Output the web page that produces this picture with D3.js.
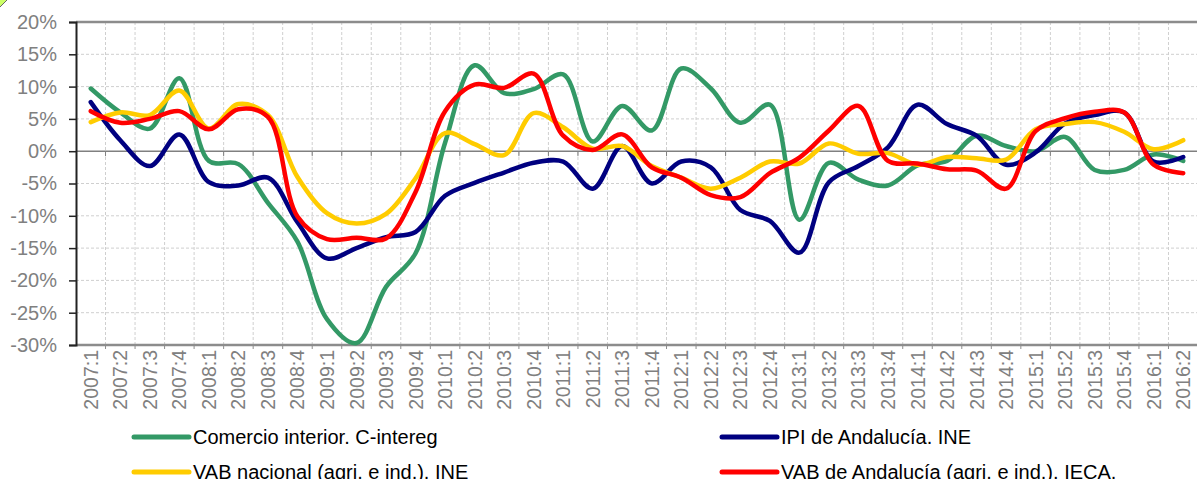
<!DOCTYPE html>
<meta charset="utf-8">
<script src="https://d3js.org/d3.v7.min.js"></script>
<style>
  body { margin: 0; background: #fff; }
  text { font-family: "Liberation Sans", Arial, sans-serif; }
</style>
<div id="my_dataviz"></div>
<script>

// quarters 2007:1 .. 2016:2
var quarters = [];
for (var yr = 2007; yr <= 2016; yr++) {
  for (var q = 1; q <= 4; q++) {
    if (yr == 2016 && q > 2) break;
    quarters.push(yr + ":" + q);
  }
}

var comercio = [9.7, 6.0, 3.5, 11.3, -1.5, -2.0, -8.0, -14.0, -26.0, -29.7,
  -21.0, -15.8, 1.3, 13.3, 9.0, 9.6, 11.9, 1.5, 7.0, 3.2,
  12.8, 9.7, 4.4, 7.2, -10.6, -1.8, -4.4, -5.3, -2.2, -1.5,
  2.4, 0.8, 0.0, 2.2, -2.9, -2.9, -0.5, -1.5];

var ipi = [7.6, 1.7, -2.3, 2.6, -4.8, -5.3, -4.1, -11.0, -16.6, -15.0,
  -13.3, -12.5, -6.9, -4.9, -3.3, -1.8, -1.6, -5.8, 0.8, -5.0,
  -1.6, -2.5, -9.1, -10.8, -15.7, -4.8, -2.3, 0.6, 7.2, 4.2,
  2.4, -2.1, -0.2, 4.3, 5.6, 6.0, -1.6, -0.9];

var vabNacional = [4.5, 6.0, 5.6, 9.4, 3.5, 7.3, 5.6, -4.0, -9.6, -11.2,
  -9.7, -4.2, 2.8, 1.1, -0.6, 5.9, 3.7, 0.4, 0.8, -2.3,
  -4.1, -5.8, -4.1, -1.6, -1.9, 1.2, -0.4, -0.3, -2.1, -0.9,
  -1.1, -1.3, 3.4, 4.2, 4.5, 3.0, 0.3, 1.7];

var vabAndalucia = [6.2, 4.4, 5.0, 6.2, 3.4, 6.5, 5.3, -10.1, -13.6, -13.4,
  -13.5, -6.3, 6.2, 10.3, 9.8, 12.0, 2.4, 0.2, 2.6, -2.5,
  -4.1, -6.8, -7.1, -3.4, -1.0, 3.2, 7.0, -1.5, -1.9, -2.8,
  -3.0, -5.8, 3.1, 5.1, 6.1, 6.0, -2.1, -3.4];

var yTicks = [20, 15, 10, 5, 0, -5, -10, -15, -20, -25, -30];

var series = [
  {name: "Comercio interior. C-intereg", values: comercio, color: "#339966"},
  {name: "IPI de Andalucía. INE", values: ipi, color: "#000080"},
  {name: "VAB nacional (agri. e ind.). INE", values: vabNacional, color: "#ffcc00"},
  {name: "VAB de Andalucía (agri. e ind.). IECA.", values: vabAndalucia, color: "#ff0000"}
];

var W = 1197, H = 479;
var plotL = 76, plotR = 1198, plotT = 22, plotB = 345;

var svg = d3.select("#my_dataviz")
  .append("svg")
    .attr("width", W)
    .attr("height", H);

var x = d3.scaleBand()
  .domain(quarters)
  .range([plotL, plotR]);

var y = d3.scaleLinear()
  .domain([-30, 20])
  .range([plotB, plotT]);

var bw = x.bandwidth();

// small corner decoration
svg.append("path")
  .attr("d", "M0,0 L7,0 L0,7 Z")
  .attr("fill", "#ccff66");
svg.append("line")
  .attr("x1", 0).attr("y1", 7).attr("x2", 7).attr("y2", 0)
  .attr("stroke", "#666").attr("stroke-width", 1);

// horizontal grid
svg.append("g")
  .selectAll("line")
  .data(yTicks.filter(function(d) { return d != 0 && d != -30 && d != 20; }))
  .enter()
  .append("line")
    .attr("x1", plotL).attr("x2", plotR)
    .attr("y1", function(d) { return y(d); })
    .attr("y2", function(d) { return y(d); })
    .attr("stroke", "#cfcfcf")
    .attr("stroke-dasharray", "3,2");

// vertical grid at category boundaries
var bounds = quarters.slice(1);
svg.append("g")
  .selectAll("line")
  .data(bounds)
  .enter()
  .append("line")
    .attr("x1", function(d) { return x(d); })
    .attr("x2", function(d) { return x(d); })
    .attr("y1", plotT).attr("y2", plotB)
    .attr("stroke", "#cfcfcf")
    .attr("stroke-dasharray", "3,2");

// zero line with ticks
svg.append("line")
  .attr("x1", plotL).attr("x2", plotR)
  .attr("y1", y(0)).attr("y2", y(0))
  .attr("stroke", "#808080").attr("stroke-width", 1.5);
svg.append("g")
  .selectAll("line")
  .data(bounds)
  .enter()
  .append("line")
    .attr("x1", function(d) { return x(d); })
    .attr("x2", function(d) { return x(d); })
    .attr("y1", y(0)).attr("y2", y(0) + 5)
    .attr("stroke", "#808080");

// top border and bottom axis
svg.append("line")
  .attr("x1", plotL).attr("x2", plotR)
  .attr("y1", plotT).attr("y2", plotT)
  .attr("stroke", "#8c8c8c").attr("stroke-width", 2.5);
svg.append("line")
  .attr("x1", plotL).attr("x2", plotR)
  .attr("y1", plotB).attr("y2", plotB)
  .attr("stroke", "#8c8c8c").attr("stroke-width", 2.5);
svg.append("g")
  .selectAll("line")
  .data(bounds)
  .enter()
  .append("line")
    .attr("x1", function(d) { return x(d); })
    .attr("x2", function(d) { return x(d); })
    .attr("y1", plotB).attr("y2", plotB + 4)
    .attr("stroke", "#8c8c8c");

// Y axis
var yAxis = svg.append("g")
  .attr("transform", "translate(" + plotL + ",0)")
  .call(d3.axisLeft(y).tickValues(yTicks).tickSize(7).tickPadding(12)
    .tickFormat(function(d) { return d + "%"; }));
yAxis.select(".domain").attr("stroke", "#222").attr("stroke-width", 2);
yAxis.selectAll(".tick line").attr("stroke", "#222").attr("stroke-width", 1.5);
yAxis.selectAll(".tick text")
  .attr("fill", "#808080")
  .style("font-size", "20px")
  .style("font-family", "'Liberation Sans', Arial, sans-serif");

// X labels
svg.append("g")
  .selectAll("text")
  .data(quarters)
  .enter()
  .append("text")
    .attr("transform", function(d) {
      return "translate(" + (x(d) + bw / 2 + 7) + "," + (plotB + 5) + ") rotate(-90)";
    })
    .attr("text-anchor", "end")
    .attr("fill", "#808080")
    .style("font-size", "19.5px")
    .text(function(d) { return d; });

// Lines
var line = d3.line()
  .x(function(d, i) { return x(quarters[i]) + bw / 2; })
  .y(function(d) { return y(d); })
  .curve(d3.curveCatmullRom.alpha(0.5));

svg.append("g")
  .selectAll("path")
  .data(series)
  .enter()
  .append("path")
    .attr("d", function(d) { return line(d.values); })
    .attr("fill", "none")
    .attr("stroke", function(d) { return d.color; })
    .attr("stroke-width", 4.5)
    .attr("stroke-linecap", "round")
    .attr("stroke-linejoin", "round");

// Legend
var legendPos = [[134, 437], [722, 437], [134, 472], [722, 472]];
var legend = svg.append("g")
  .selectAll("g")
  .data(series)
  .enter()
  .append("g")
    .attr("transform", function(d, i) {
      return "translate(" + legendPos[i][0] + "," + legendPos[i][1] + ")";
    });
legend.append("line")
  .attr("x1", 0).attr("x2", 55)
  .attr("y1", 0).attr("y2", 0)
  .attr("stroke", function(d) { return d.color; })
  .attr("stroke-width", 5)
  .attr("stroke-linecap", "round");
legend.append("text")
  .attr("x", 59)
  .attr("y", 7)
  .attr("fill", "#000")
  .style("font-size", "20px")
  .text(function(d) { return d.name; });

</script>
